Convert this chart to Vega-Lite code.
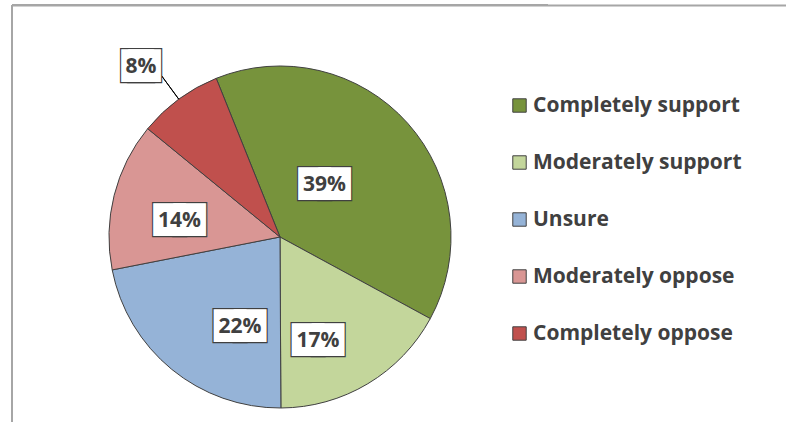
{
  "$schema": "https://vega.github.io/schema/vega-lite/v6.json",
  "width": 536,
  "height": 464,
  "autosize": {"type": "none"},
  "padding": {"left": 12, "top": 5, "right": 238, "bottom": -47},
  "background": "white",
  "view": {"stroke": "#A6A6A6", "strokeWidth": 2, "strokeDash": [536, 1000, 464, 0]},
  "data": {
    "values": [
      {"category": "Completely support", "value": 39, "label": "39%", "rank": 1},
      {"category": "Moderately support", "value": 17, "label": "17%", "rank": 2},
      {"category": "Unsure", "value": 22, "label": "22%", "rank": 3},
      {"category": "Moderately oppose", "value": 14, "label": "14%", "rank": 4},
      {"category": "Completely oppose", "value": 8, "label": "8%", "rank": 5}
    ]
  },
  "encoding": {
    "theta": {"field": "value", "type": "quantitative", "stack": true, "scale": {"range": [-0.3822, 5.901]}},
    "order": {"field": "rank", "type": "quantitative"}
  },
  "layer": [
    {
      "mark": {"type": "text", "text": ""},
      "encoding": {
        "x": {
          "datum": 0,
          "type": "quantitative",
          "scale": {"domain": [0, 1], "range": [0, 776]},
          "axis": {"orient": "top", "domain": true, "domainColor": "#A6A6A6", "domainWidth": 2, "ticks": false, "labels": false, "grid": false, "title": null, "offset": 0}
        }
      }
    },
    {
      "mark": {"type": "arc", "outerRadius": 171, "stroke": "#404040", "strokeWidth": 1},
      "encoding": {
        "color": {
          "field": "category",
          "type": "nominal",
          "sort": null,
          "scale": {
            "domain": ["Completely support", "Moderately support", "Unsure", "Moderately oppose", "Completely oppose"],
            "range": ["#77933C", "#C3D69B", "#95B3D7", "#D99694", "#C0504D"]
          },
          "legend": {
            "orient": "none",
            "legendX": 497,
            "legendY": 90,
            "title": null,
            "padding": 0,
            "symbolType": "square",
            "symbolSize": 180,
            "symbolStrokeColor": "#404040",
            "symbolStrokeWidth": 1,
            "labelFont": "Open Sans",
            "labelFontSize": 21,
            "labelFontWeight": "bold",
            "labelColor": "#404040",
            "labelOffset": 3,
            "labelLimit": 0,
            "rowPadding": 35
          }
        }
      }
    },
    {
      "mark": {"type": "arc", "innerRadius": 171, "outerRadius": 205, "padAngle": 1, "fill": "#000000", "stroke": "#000000", "strokeWidth": 1},
      "encoding": {"opacity": {"condition": {"test": "datum.category === 'Completely oppose'", "value": 1}, "value": 0}}
    },
    {
      "encoding": {"radius": {"value": 70}},
      "layer": [
        {"mark": {"type": "text", "font": "DejaVu Sans", "fontSize": 43, "baseline": "middle", "fill": "white", "stroke": "#404040", "strokeWidth": 2.4, "dx": -17.8, "dy": -8.4},
         "encoding": {"text": {"condition": {"test": "datum.category === 'Completely support'", "value": "■"}, "value": ""}}},
        {"mark": {"type": "text", "font": "DejaVu Sans", "fontSize": 43, "baseline": "middle", "fill": "white", "stroke": "#404040", "strokeWidth": 2.4, "dx": 2.2, "dy": -8.4},
         "encoding": {"text": {"condition": {"test": "datum.category === 'Completely support'", "value": "■"}, "value": ""}}},
        {"mark": {"type": "text", "font": "DejaVu Sans", "fontSize": 43, "baseline": "middle", "fill": "white", "dx": -17.8, "dy": -8.4},
         "encoding": {"text": {"condition": {"test": "datum.category === 'Completely support'", "value": "■"}, "value": ""}}},
        {"mark": {"type": "text", "font": "DejaVu Sans", "fontSize": 43, "baseline": "middle", "fill": "white", "dx": 2.2, "dy": -8.4},
         "encoding": {"text": {"condition": {"test": "datum.category === 'Completely support'", "value": "■"}, "value": ""}}},
        {"mark": {"type": "text", "font": "Open Sans", "fontSize": 21, "fontWeight": "bold", "baseline": "middle", "color": "#404040", "dx": -7.8, "dy": -5.2},
         "encoding": {"text": {"condition": {"test": "datum.category === 'Completely support'", "field": "label", "type": "nominal"}, "value": ""}}}
      ]
    },
    {
      "encoding": {"radius": {"value": 105}},
      "layer": [
        {"mark": {"type": "text", "font": "DejaVu Sans", "fontSize": 43, "baseline": "middle", "fill": "white", "stroke": "#404040", "strokeWidth": 2.4, "dx": -25.9, "dy": 10.9},
         "encoding": {"text": {"condition": {"test": "datum.category === 'Moderately support'", "value": "■"}, "value": ""}}},
        {"mark": {"type": "text", "font": "DejaVu Sans", "fontSize": 43, "baseline": "middle", "fill": "white", "stroke": "#404040", "strokeWidth": 2.4, "dx": -5.9, "dy": 10.9},
         "encoding": {"text": {"condition": {"test": "datum.category === 'Moderately support'", "value": "■"}, "value": ""}}},
        {"mark": {"type": "text", "font": "DejaVu Sans", "fontSize": 43, "baseline": "middle", "fill": "white", "dx": -25.9, "dy": 10.9},
         "encoding": {"text": {"condition": {"test": "datum.category === 'Moderately support'", "value": "■"}, "value": ""}}},
        {"mark": {"type": "text", "font": "DejaVu Sans", "fontSize": 43, "baseline": "middle", "fill": "white", "dx": -5.9, "dy": 10.9},
         "encoding": {"text": {"condition": {"test": "datum.category === 'Moderately support'", "value": "■"}, "value": ""}}},
        {"mark": {"type": "text", "font": "Open Sans", "fontSize": 21, "fontWeight": "bold", "baseline": "middle", "color": "#404040", "dx": -15.9, "dy": 14.1},
         "encoding": {"text": {"condition": {"test": "datum.category === 'Moderately support'", "field": "label", "type": "nominal"}, "value": ""}}}
      ]
    },
    {
      "encoding": {"radius": {"value": 105}},
      "layer": [
        {"mark": {"type": "text", "font": "DejaVu Sans", "fontSize": 43, "baseline": "middle", "fill": "white", "stroke": "#404040", "strokeWidth": 2.4, "dx": 16.5, "dy": 5.8},
         "encoding": {"text": {"condition": {"test": "datum.category === 'Unsure'", "value": "■"}, "value": ""}}},
        {"mark": {"type": "text", "font": "DejaVu Sans", "fontSize": 43, "baseline": "middle", "fill": "white", "stroke": "#404040", "strokeWidth": 2.4, "dx": 36.5, "dy": 5.8},
         "encoding": {"text": {"condition": {"test": "datum.category === 'Unsure'", "value": "■"}, "value": ""}}},
        {"mark": {"type": "text", "font": "DejaVu Sans", "fontSize": 43, "baseline": "middle", "fill": "white", "dx": 16.5, "dy": 5.8},
         "encoding": {"text": {"condition": {"test": "datum.category === 'Unsure'", "value": "■"}, "value": ""}}},
        {"mark": {"type": "text", "font": "DejaVu Sans", "fontSize": 43, "baseline": "middle", "fill": "white", "dx": 36.5, "dy": 5.8},
         "encoding": {"text": {"condition": {"test": "datum.category === 'Unsure'", "value": "■"}, "value": ""}}},
        {"mark": {"type": "text", "font": "Open Sans", "fontSize": 21, "fontWeight": "bold", "baseline": "middle", "color": "#404040", "dx": 26.5, "dy": 9},
         "encoding": {"text": {"condition": {"test": "datum.category === 'Unsure'", "field": "label", "type": "nominal"}, "value": ""}}}
      ]
    },
    {
      "encoding": {"radius": {"value": 105}},
      "layer": [
        {"mark": {"type": "text", "font": "DejaVu Sans", "fontSize": 43, "baseline": "middle", "fill": "white", "stroke": "#404040", "strokeWidth": 2.4, "dx": -8.7, "dy": 6.1},
         "encoding": {"text": {"condition": {"test": "datum.category === 'Moderately oppose'", "value": "■"}, "value": ""}}},
        {"mark": {"type": "text", "font": "DejaVu Sans", "fontSize": 43, "baseline": "middle", "fill": "white", "stroke": "#404040", "strokeWidth": 2.4, "dx": 11.3, "dy": 6.1},
         "encoding": {"text": {"condition": {"test": "datum.category === 'Moderately oppose'", "value": "■"}, "value": ""}}},
        {"mark": {"type": "text", "font": "DejaVu Sans", "fontSize": 43, "baseline": "middle", "fill": "white", "dx": -8.7, "dy": 6.1},
         "encoding": {"text": {"condition": {"test": "datum.category === 'Moderately oppose'", "value": "■"}, "value": ""}}},
        {"mark": {"type": "text", "font": "DejaVu Sans", "fontSize": 43, "baseline": "middle", "fill": "white", "dx": 11.3, "dy": 6.1},
         "encoding": {"text": {"condition": {"test": "datum.category === 'Moderately oppose'", "value": "■"}, "value": ""}}},
        {"mark": {"type": "text", "font": "Open Sans", "fontSize": 21, "fontWeight": "bold", "baseline": "middle", "color": "#404040", "dx": 1.3, "dy": 9.3},
         "encoding": {"text": {"condition": {"test": "datum.category === 'Moderately oppose'", "field": "label", "type": "nominal"}, "value": ""}}}
      ]
    },
    {
      "encoding": {"radius": {"value": 218}},
      "layer": [
        {"mark": {"type": "text", "font": "DejaVu Sans", "fontSize": 43, "baseline": "middle", "fill": "white", "stroke": "#404040", "strokeWidth": 2.4, "dx": -13.4, "dy": 2.2},
         "encoding": {"text": {"condition": {"test": "datum.category === 'Completely oppose'", "value": "■"}, "value": ""}}},
        {"mark": {"type": "text", "font": "DejaVu Sans", "fontSize": 43, "baseline": "middle", "fill": "white", "stroke": "#404040", "strokeWidth": 2.4, "dx": -6.4, "dy": 2.2},
         "encoding": {"text": {"condition": {"test": "datum.category === 'Completely oppose'", "value": "■"}, "value": ""}}},
        {"mark": {"type": "text", "font": "DejaVu Sans", "fontSize": 43, "baseline": "middle", "fill": "white", "dx": -13.4, "dy": 2.2},
         "encoding": {"text": {"condition": {"test": "datum.category === 'Completely oppose'", "value": "■"}, "value": ""}}},
        {"mark": {"type": "text", "font": "DejaVu Sans", "fontSize": 43, "baseline": "middle", "fill": "white", "dx": -6.4, "dy": 2.2},
         "encoding": {"text": {"condition": {"test": "datum.category === 'Completely oppose'", "value": "■"}, "value": ""}}},
        {"mark": {"type": "text", "font": "Open Sans", "fontSize": 21, "fontWeight": "bold", "baseline": "middle", "color": "#404040", "dx": -9.9, "dy": 5.4},
         "encoding": {"text": {"condition": {"test": "datum.category === 'Completely oppose'", "field": "label", "type": "nominal"}, "value": ""}}}
      ]
    }
  ]
}
